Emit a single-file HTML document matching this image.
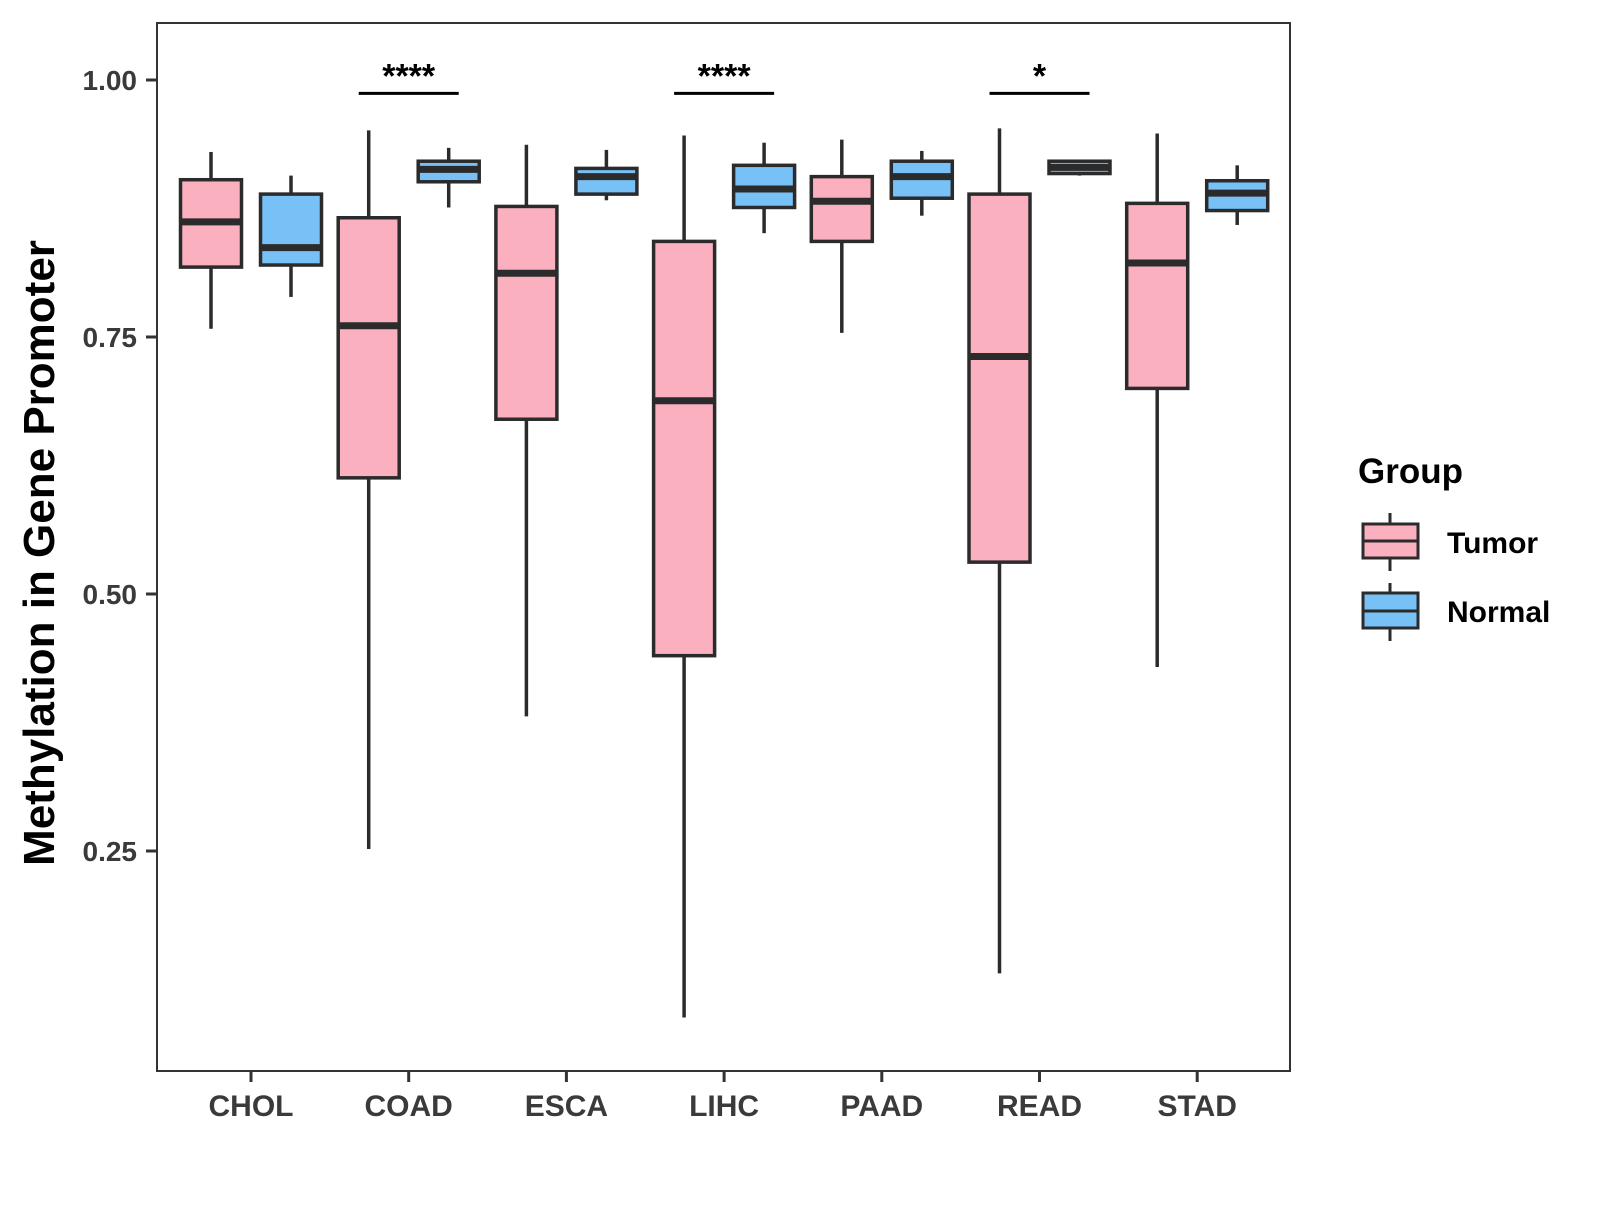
<!DOCTYPE html>
<html><head><meta charset="utf-8"><style>
body{margin:0;background:#fff}
svg text{font-family:"Liberation Sans",sans-serif;font-weight:bold}
</style></head><body>
<svg id="chart" width="1600" height="1200" xmlns="http://www.w3.org/2000/svg">
<rect x="157" y="23" width="1133" height="1048" fill="#fff" stroke="#333" stroke-width="2"/>
<g id="marks"></g>
<text transform="translate(54,553) rotate(-90)" text-anchor="middle" font-size="44" fill="#000">Methylation in Gene Promoter</text>
<g>
<text x="1358" y="483" font-size="35" fill="#000">Group</text>
<g>
<line x1="1390" x2="1390" y1="513" y2="571" stroke="#2b2b2b" stroke-width="3"/>
<rect x="1363" y="524" width="55" height="34" fill="#FBB0C0" stroke="#2b2b2b" stroke-width="3"/>
<line x1="1363" x2="1418" y1="541" y2="541" stroke="#2b2b2b" stroke-width="3"/>
<text x="1447" y="553" font-size="30" fill="#000">Tumor</text></g>
<g>
<line x1="1390" x2="1390" y1="583" y2="641" stroke="#2b2b2b" stroke-width="3"/>
<rect x="1363" y="593" width="55" height="35" fill="#77C1F7" stroke="#2b2b2b" stroke-width="3"/>
<line x1="1363" x2="1418" y1="611" y2="611" stroke="#2b2b2b" stroke-width="3"/>
<text x="1447" y="622" font-size="30" fill="#000">Normal</text></g>
</g>
</svg>
<script>
const categories=["CHOL","COAD","ESCA","LIHC","PAAD","READ","STAD"];
const tumorStats=[[0.758,0.818,0.862,0.903,0.930],[0.252,0.613,0.761,0.866,0.951],[0.381,0.670,0.812,0.877,0.937],[0.088,0.440,0.688,0.843,0.946],[0.754,0.843,0.882,0.906,0.942],[0.131,0.531,0.731,0.889,0.953],[0.429,0.700,0.822,0.880,0.948]];
const normalStats=[[0.789,0.820,0.837,0.889,0.907],[0.876,0.901,0.913,0.921,0.934],[0.883,0.889,0.906,0.914,0.932],[0.851,0.876,0.894,0.917,0.939],[0.868,0.885,0.906,0.921,0.931],[0.907,0.909,0.915,0.921,0.922],[0.859,0.873,0.890,0.902,0.917]];
const yTicks=[0.25,0.5,0.75,1.0];
const yTickLabels=["0.25","0.50","0.75","1.00"];
const sigCats=["COAD","LIHC","READ"];
const sigLabels=["****","****","*"];
const sigY=[0.987,0.987,0.987];
const NS="http://www.w3.org/2000/svg";
const svg=document.getElementById('chart');const g=document.getElementById('marks');
const xc=i=>251+i*157.7;
const yv=v=>80+(1-v)*1028;
function mk(t,a,p){const e=document.createElementNS(NS,t);for(const k in a)e.setAttribute(k,a[k]);(p||g).appendChild(e);return e;}
yTicks.forEach((v,i)=>{
 const t=mk('line',{x1:146,x2:157,y1:yv(v),y2:yv(v),stroke:'#333','stroke-width':3});
 
 
 const l=mk('text',{x:137,y:yv(v)+10,'text-anchor':'end','font-size':28,fill:'#3a3a3a'});l.textContent=yTickLabels[i];
 
 
});
categories.forEach((c,i)=>{
 const t=mk('line',{x1:xc(i),x2:xc(i),y1:1071,y2:1082,stroke:'#333','stroke-width':3});
 
 
 const l=mk('text',{x:xc(i),y:1116,'text-anchor':'middle','font-size':30,fill:'#3a3a3a'});l.textContent=c;
 
 
 [[tumorStats[i],-40,'#FBB0C0','tumor'],[normalStats[i],40,'#77C1F7','normal']].forEach(([s,off,col,nm])=>{
  const cx=xc(i)+off,w=61;
  const bg=mk('g',{});
  
  
  mk('line',{x1:cx,x2:cx,y1:yv(s[0]),y2:yv(s[1]),stroke:'#2b2b2b','stroke-width':3.5},bg);
  mk('line',{x1:cx,x2:cx,y1:yv(s[3]),y2:yv(s[4]),stroke:'#2b2b2b','stroke-width':3.5},bg);
  mk('rect',{x:cx-w/2,y:yv(s[3]),width:w,height:yv(s[1])-yv(s[3]),fill:col,stroke:'#2b2b2b','stroke-width':3.5},bg);
  mk('line',{x1:cx-w/2,x2:cx+w/2,y1:yv(s[2]),y2:yv(s[2]),stroke:'#2b2b2b','stroke-width':7},bg);
 });
});
sigCats.forEach((c,k)=>{
 const i=categories.indexOf(c);
 const b=mk('line',{x1:xc(i)-50,x2:xc(i)+50,y1:yv(sigY[k]),y2:yv(sigY[k]),stroke:'#000','stroke-width':3});
 
 
 const t=mk('text',{x:xc(i),y:yv(sigY[k])-6,'text-anchor':'middle','font-size':34,fill:'#000'});t.textContent=sigLabels[k];
 
 
});
</script>
</body></html>
